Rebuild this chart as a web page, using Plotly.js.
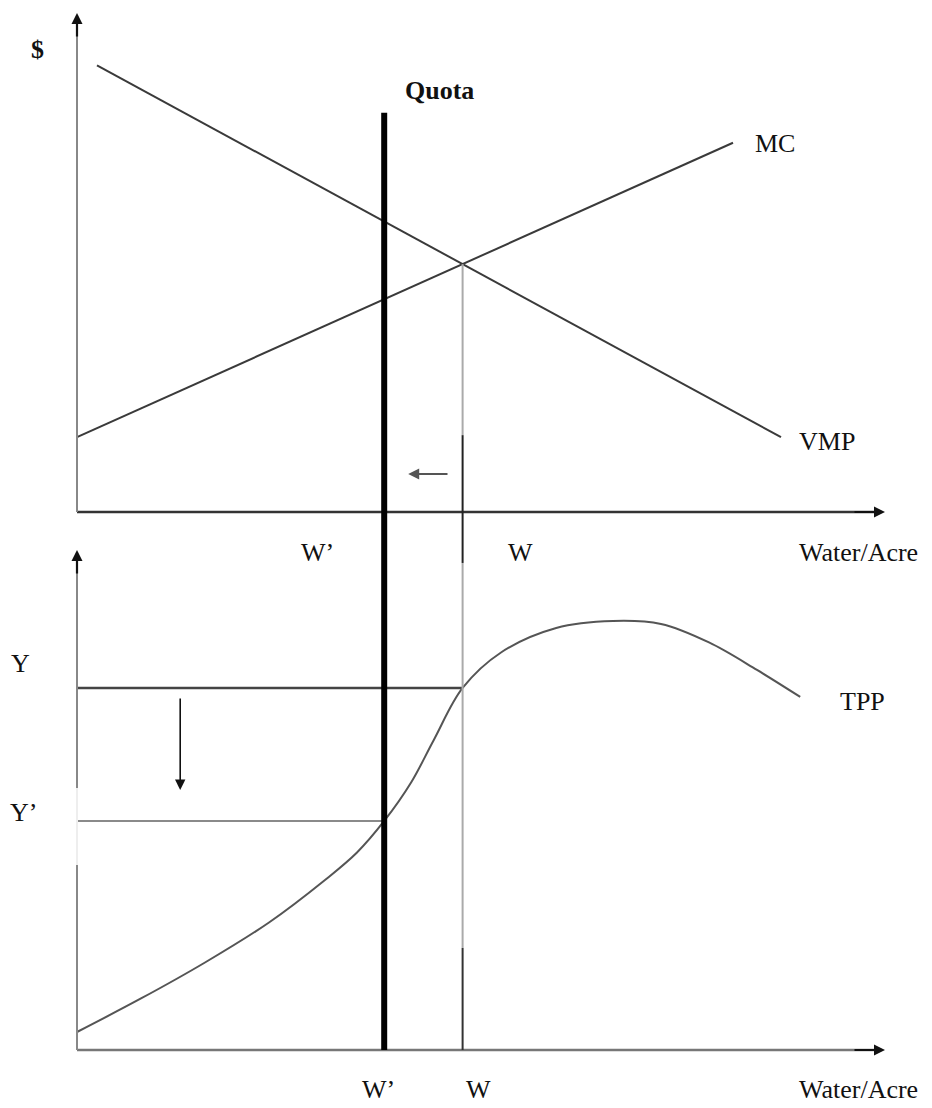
<!DOCTYPE html>
<html>
<head>
<meta charset="utf-8">
<script src="https://cdn.plot.ly/plotly-3.0.1.min.js"></script>
<style>
  html, body { margin: 0; padding: 0; background: #fff; }
  #chart { width: 932px; height: 1108px; }
</style>
</head>
<body>
<div id="chart"></div>
<script>
// upper panel: $ against water per acre
const vmpW = [0.25, 8.8];
const vmpP = [8.95, 1.5];
const mcW = [0, 8.2];
const mcP = [1.5, 7.4];
const wQuota = 3.84;      // W'
const quotaTop = 8.0;

// lower panel: total physical product
const tppW = [0, 0.8, 1.6, 2.4, 3.1, 3.5, 3.84, 4.18, 4.46, 4.82, 5.3, 5.99, 6.7, 7.3, 7.9, 8.5, 9.04];
const tppY = [0.36, 1.03, 1.75, 2.55, 3.4, 3.95, 4.58, 5.36, 6.2, 7.24, 7.95, 8.44, 8.58, 8.52, 8.15, 7.6, 7.06];
const yHigh = 7.24;       // Y
const yLow = 4.58;        // Y'

// W = where VMP meets MC
const sV = (vmpP[1] - vmpP[0]) / (vmpW[1] - vmpW[0]);
const sM = (mcP[1] - mcP[0]) / (mcW[1] - mcW[0]);
const wStar = (mcP[0] - vmpP[0] + sV * vmpW[0] - sM * mcW[0]) / (sV - sM);
const pStar = mcP[0] + sM * (wStar - mcW[0]);

const xRange = [-0.2, 10.3];
const yRange = [-0.2, 10.2];
const axisEnd = 10.1;
const topDom = [0.509, 1];
const botDom = [0, 0.492];

function pTop(v) { return topDom[0] + (v - yRange[0]) / (yRange[1] - yRange[0]) * (topDom[1] - topDom[0]); }
function pBot(v) { return botDom[0] + (v - yRange[0]) / (yRange[1] - yRange[0]) * (botDom[1] - botDom[0]); }
// label placement helpers (page pixels -> paper)
function fx(px) { return (px - 61) / 840; }
function fy(py) { return (1060 - py) / 1057; }

const FONT = 'Liberation Serif, Times New Roman, serif';

const traces = [
  { x: vmpW, y: vmpP, xaxis: 'x', yaxis: 'y', mode: 'lines', line: { color: '#3a3a3a', width: 2 } },
  { x: mcW, y: mcP, xaxis: 'x', yaxis: 'y', mode: 'lines', line: { color: '#3a3a3a', width: 2 } },
  { x: [0, wStar], y: [yHigh, yHigh], xaxis: 'x2', yaxis: 'y2', mode: 'lines', line: { color: '#444', width: 2.5 } },
  { x: [0, wQuota], y: [yLow, yLow], xaxis: 'x2', yaxis: 'y2', mode: 'lines', line: { color: '#8a8a8a', width: 2 } },
  { x: tppW, y: tppY, xaxis: 'x2', yaxis: 'y2', mode: 'lines', line: { color: '#555', width: 2, shape: 'spline', smoothing: 1 } }
];

function seg(x0, y0, x1, y1, xref, yref, color, width) {
  return { type: 'line', xref: xref, yref: yref, x0: x0, y0: y0, x1: x1, y1: y1, line: { color: color, width: width } };
}

const shapes = [
  // axes
  seg(0, 0, axisEnd - 0.1, 0, 'x', 'y', '#333', 2.5),
  seg(0, 0, 0, 9.8, 'x', 'y', '#888', 2),
  seg(0, 0, axisEnd - 0.1, 0, 'x2', 'y2', '#777', 2.5),
  seg(0, 0, 0, 3.7, 'x2', 'y2', '#888', 2),
  seg(0, 3.7, 0, 5.24, 'x2', 'y2', '#eeeeee', 2),
  seg(0, 5.24, 0, 9.8, 'x2', 'y2', '#888', 2),
  // W line
  seg(wStar, pStar, wStar, 1.54, 'x', 'y', '#aaa', 2),
  seg(wStar, pTop(1.54), wStar, pBot(9.74), 'x', 'paper', '#222', 2),
  seg(wStar, 9.74, wStar, 2.04, 'x2', 'y2', '#aaa', 2),
  seg(wStar, 2.04, wStar, 0, 'x2', 'y2', '#333', 2),
  // quota
  seg(wQuota, pBot(0), wQuota, pTop(quotaTop), 'x', 'paper', '#000', 6)
];

function head(x, y, ax, ay, xr, yr, color, w, size) {
  return { x: x, y: y, ax: ax, ay: ay, xref: xr, yref: yr, axref: xr, ayref: yr, text: '',
    showarrow: true, arrowhead: 2, arrowwidth: w, arrowsize: size || 1, arrowcolor: color };
}
function label(text, x, y, opts) {
  return Object.assign({ text: text, x: x, y: y, xref: 'paper', yref: 'paper', showarrow: false,
    xanchor: 'center', yanchor: 'middle', font: { family: FONT, size: 26, color: '#111' } }, opts || {});
}

const annotations = [
  head(axisEnd, 0, axisEnd - 0.4, 0, 'x', 'y', '#111', 2.2),
  head(0, 10, 0, 9.5, 'x', 'y', '#111', 2.2),
  head(axisEnd, 0, axisEnd - 0.4, 0, 'x2', 'y2', '#111', 2.2),
  head(0, 10, 0, 9.5, 'x2', 'y2', '#111', 2.2),
  head(4.14, 0.76, 4.65, 0.76, 'x', 'y', '#555', 2, 1.1),
  head(1.29, 5.2, 1.29, 7.06, 'x2', 'y2', '#111', 1.6, 1.3),

  label('<b>$</b>', fx(37), fy(50)),
  label('<b>Quota</b>', wQuota, fy(91), { xref: 'x', xshift: 55 }),
  label('MC', fx(753), fy(143), { xanchor: 'left' }),
  label('VMP', fx(797), fy(442), { xanchor: 'left' }),
  label('W’', wQuota, fy(552), { xref: 'x', xshift: -67 }),
  label('W', wStar, fy(552), { xref: 'x', xshift: 58 }),
  label('Water/Acre', fx(797), fy(552), { xanchor: 'left' }),
  label('Y', fx(20), yHigh, { yref: 'y2', yshift: 24 }),
  label('Y’', fx(23), yLow, { yref: 'y2', yshift: 8 }),
  label('TPP', fx(838), fy(701), { xanchor: 'left' }),
  label('W’', wQuota, fy(1089), { xref: 'x', xshift: -6 }),
  label('W', wStar, fy(1089), { xref: 'x', xshift: 16 }),
  label('Water/Acre', fx(797), fy(1089), { xanchor: 'left' })
];

const hidden = { showgrid: false, zeroline: false, showticklabels: false, showline: false, ticks: '', fixedrange: true };

const layout = {
  width: 932,
  height: 1108,
  margin: { l: 61, r: 31, t: 3, b: 48 },
  paper_bgcolor: '#fff',
  plot_bgcolor: '#fff',
  showlegend: false,
  hovermode: false,
  xaxis: Object.assign({ range: xRange, domain: [0, 1], anchor: 'y' }, hidden),
  yaxis: Object.assign({ range: yRange, domain: topDom, anchor: 'x' }, hidden),
  xaxis2: Object.assign({ range: xRange, domain: [0, 1], anchor: 'y2' }, hidden),
  yaxis2: Object.assign({ range: yRange, domain: botDom, anchor: 'x2' }, hidden),
  shapes: shapes,
  annotations: annotations
};

Plotly.newPlot('chart', traces, layout, { staticPlot: true, displayModeBar: false });
</script>
</body>
</html>
